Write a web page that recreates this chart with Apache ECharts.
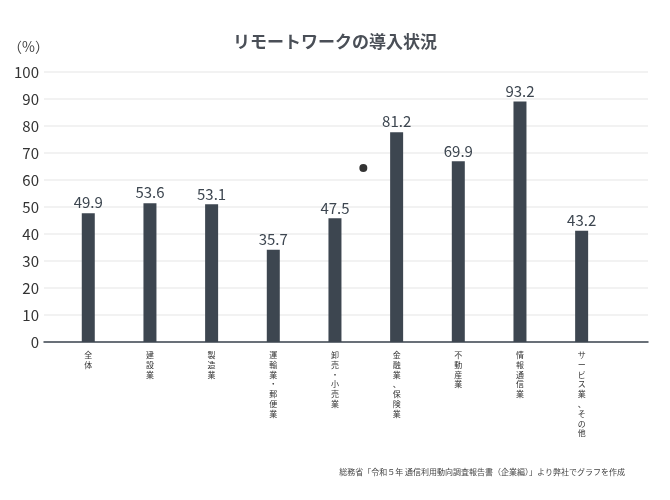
<!DOCTYPE html>
<html>
<head>
<meta charset="utf-8">
<script src="https://cdn.jsdelivr.net/npm/echarts@6/dist/echarts.min.js"></script>
<style>
  html, body { margin: 0; padding: 0; background: #fff; }
  #chart { width: 670px; height: 500px; }
</style>
</head>
<body>
<div id="chart"></div>
<script>
// 業種
const categories = ['全体', '建設業', '製造業', '運輸業・郵便業', '卸売・小売業', '金融業、保険業', '不動産業', '情報通信業', 'サービス業、その他'];
// 棒の高さ
const barValues = [47.7, 51.4, 51.0, 34.2, 45.8, 77.7, 66.9, 89.1, 41.2];
// 棒の上に表示されている数値
const labelValues = ['49.9', '53.6', '53.1', '35.7', '47.5', '81.2', '69.9', '93.2', '43.2'];
// 図中の黒い点 [x位置, 値]
const dotPoint = [4.46, 64.4];
const yTicks = [0, 10, 20, 30, 40, 50, 60, 70, 80, 90, 100];

const FONT = '"Noto Sans CJK JP", "Noto Sans", sans-serif';

const chart = echarts.init(document.getElementById('chart'));

const option = {
  backgroundColor: '#fff',
  textStyle: { fontFamily: FONT },
  animation: false,
  title: {
    text: 'リモートワークの導入状況',
    left: 'center',
    top: 28,
    textStyle: { fontFamily: FONT, fontSize: 17, fontWeight: 'bold', color: '#4a4f57' }
  },
  graphic: [{
    type: 'text',
    left: 8,
    top: 40,
    style: { text: '（%）', font: '14px ' + FONT, fill: '#444' }
  }, {
    type: 'text',
    right: 45,
    bottom: 24,
    style: {
      text: '総務省「令和５年 通信利用動向調査報告書（企業編）」より弊社でグラフを作成',
      font: '8px ' + FONT,
      fill: '#444'
    }
  }],
  grid: { left: 44, right: 22, top: 72, bottom: 158 },
  xAxis: {
    type: 'value',
    min: -0.718,
    max: 9.076,
    splitLine: { show: false },
    axisTick: { show: false },
    axisLine: { show: true, onZero: false, lineStyle: { color: '#3d4650', width: 1.5 } },
    axisLabel: {
      customValues: categories.map((c, i) => i),
      formatter: (v) => categories[Math.round(v)].split('').join('\n'),
      fontFamily: FONT,
      fontSize: 8,
      lineHeight: 9.8,
      color: '#333',
      margin: 8,
      verticalAlign: 'top'
    }
  },
  yAxis: {
    type: 'value',
    min: yTicks[0],
    max: yTicks[yTicks.length - 1],
    interval: 10,
    axisLine: { show: false },
    axisTick: { show: false },
    axisLabel: { fontFamily: FONT, fontSize: 15, color: '#333', margin: 5 },
    splitLine: { lineStyle: { color: '#eeeeee', width: 1.5 } }
  },
  series: [{
    type: 'bar',
    data: barValues.map((v, i) => [i, v]),
    barWidth: 13,
    itemStyle: { color: '#3d4650' },
    label: {
      show: true,
      position: 'top',
      distance: 3,
      formatter: (p) => labelValues[p.dataIndex],
      fontFamily: FONT,
      fontSize: 15,
      color: '#3d4650'
    }
  }, {
    type: 'scatter',
    data: [dotPoint],
    symbolSize: 8,
    itemStyle: { color: '#000' }
  }]
};

chart.setOption(option);
window.addEventListener('resize', () => chart.resize());
</script>
</body>
</html>
